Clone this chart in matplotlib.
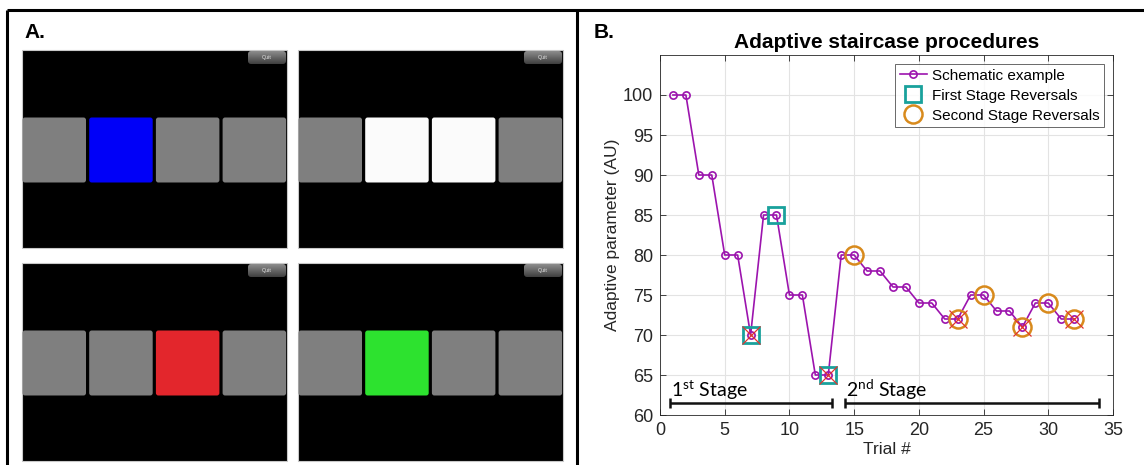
import matplotlib
matplotlib.use("Agg")
import matplotlib.pyplot as plt
from matplotlib.patches import FancyBboxPatch, Rectangle
import numpy as np

# ---- data -------------------------------------------------------------
trials = list(range(1, 33))
values = [100, 100, 90, 90, 80, 80, 70, 85, 85, 75, 75, 65, 65, 80, 80, 78,
          78, 76, 76, 74, 74, 72, 72, 75, 75, 73, 73, 71, 74, 74, 72, 72]
first_stage_reversals = [7, 9, 13]
second_stage_reversals = [15, 23, 25, 28, 30, 32]
valley_reversals = [7, 13, 23, 28, 32]
stage_spans = [(0.8, 13.3), (14.3, 33.9)]
stage_labels = ["1", "2"]
stage_suffix = ["st", "nd"]
x_ticks = [0, 5, 10, 15, 20, 25, 30, 35]
y_ticks = [60, 65, 70, 75, 80, 85, 90, 95, 100]

# stimulus screens: colour of each of the four tiles
screens = [
    ["#7f7f7f", "#0000f8", "#7f7f7f", "#7f7f7f"],
    ["#7f7f7f", "#fbfbfb", "#fbfbfb", "#7f7f7f"],
    ["#7f7f7f", "#7f7f7f", "#e3262c", "#7f7f7f"],
    ["#7f7f7f", "#2de22f", "#7f7f7f", "#7f7f7f"],
]

plt.rcParams["font.family"] = ["Liberation Sans", "DejaVu Sans"]
plt.rcParams["mathtext.fontset"] = "custom"
plt.rcParams["mathtext.rm"] = "Lato"

W, H = 1144, 465
fig = plt.figure(figsize=(W / 100, H / 100), dpi=100)

# ---- background layer in pixel coordinates ----------------------------
bg = fig.add_axes([0, 0, 1, 1])
bg.set_xlim(0, W)
bg.set_ylim(H, 0)
bg.axis("off")

# frame lines
bg.plot([7, W], [10, 10], color="black", lw=2.2, solid_capstyle="butt")
bg.plot([7, 7], [10, H], color="black", lw=2.2, solid_capstyle="butt")
bg.plot([577, 577], [10, H], color="black", lw=2.2, solid_capstyle="butt")

bg.text(24, 33, "A.", fontsize=15, fontweight="bold", ha="left", va="center")
bg.text(594, 33, "B.", fontsize=15, fontweight="bold", ha="left", va="center")

# screen geometry: (left, top) of each screen
screen_pos = [(22, 50), (298, 50), (22, 263), (298, 263)]
sw, sh = 265, 198
tile_w, tile_h, tile_gap = 63.5, 65, 3.2

for (sx, sy), colors in zip(screen_pos, screens):
    bg.add_patch(Rectangle((sx, sy), sw, sh, facecolor="black",
                           edgecolor="#c8c8c8", lw=0.8))
    ty = sy + sh / 2 - tile_h / 2 + 1
    for i, c in enumerate(colors):
        tx = sx + 0.5 + i * (tile_w + tile_gap)
        bg.add_patch(FancyBboxPatch((tx + 2.5, ty + 2.5), tile_w - 5, tile_h - 5,
                                    boxstyle="round,pad=2.5",
                                    facecolor=c, edgecolor="none"))
    # quit button
    bx, by, bw, bh = sx + sw - 39, sy + 1, 38, 13
    grad = np.linspace(0.55, 0.25, 20).reshape(-1, 1)
    bg.imshow(grad, cmap="gray", vmin=0, vmax=1, aspect="auto",
              extent=(bx, bx + bw, by + bh, by), zorder=3, interpolation="bilinear")
    clip = FancyBboxPatch((bx + 3, by + 3), bw - 6, bh - 6,
                          boxstyle="round,pad=3", facecolor="none",
                          edgecolor="none", transform=bg.transData)
    bg.add_patch(clip)
    bg.images[-1].set_clip_path(clip)
    bg.text(bx + bw / 2, by + bh / 2, "Quit", fontsize=3.8, color="#e6e6e6",
            ha="center", va="center", zorder=4)

# ---- staircase chart --------------------------------------------------
ax_l, ax_r, ax_t, ax_b = 660, 1113, 55, 415
ax = fig.add_axes([ax_l / W, 1 - ax_b / H, (ax_r - ax_l) / W, (ax_b - ax_t) / H])

line_col = "#9c14ae"
sq_col = "#19a19c"
circ_col = "#d88a1c"
x_col = "#e0342e"

vals = dict(zip(trials, values))
ax.plot(trials, values, "-o", color=line_col, lw=1.2, ms=5.2, mfc="none",
        mew=1.2, label="Schematic example", zorder=3)
ax.plot(first_stage_reversals, [vals[t] for t in first_stage_reversals], "s",
        color=sq_col, ms=11, mfc="none", mew=2.0, ls="none",
        label="First Stage Reversals", zorder=4)
ax.plot(second_stage_reversals, [vals[t] for t in second_stage_reversals], "o",
        color=circ_col, ms=13, mfc="none", mew=1.8, ls="none",
        label="Second Stage Reversals", zorder=4)
ax.plot(valley_reversals, [vals[t] for t in valley_reversals], "x",
        color=x_col, ms=13, mew=0.9, ls="none", zorder=5)

ax.set_xlim(0, 35)
ax.set_ylim(60, 105)
ax.set_xticks(x_ticks)
ax.set_yticks(y_ticks)
ax.tick_params(direction="in", top=True, right=True, length=4, width=0.6,
               labelsize=13, colors="#262626", pad=5)
ax.grid(True, color="#e3e3e3", lw=0.8)
ax.set_axisbelow(True)
for s in ax.spines.values():
    s.set_color("#262626")
    s.set_linewidth(0.6)

ax.set_title("Adaptive staircase procedures", fontsize=15, fontweight="bold",
             pad=5)
ax.set_xlabel("Trial #", fontsize=12.5, color="#262626", labelpad=2)
ax.set_ylabel("Adaptive parameter (AU)", fontsize=12.5, color="#262626",
              labelpad=2)

leg = ax.legend(loc="upper right", fontsize=11, frameon=True, fancybox=False,
                edgecolor="#262626", borderpad=0.3, handlelength=1.8,
                handletextpad=0.3, labelspacing=0.4, borderaxespad=0,
                bbox_to_anchor=(0.98, 0.975))
leg.get_frame().set_linewidth(0.6)

# stage brackets
for (x0, x1), num, suf in zip(stage_spans, stage_labels, stage_suffix):
    ax.plot([x0, x1], [61.5, 61.5], color="#111111", lw=1.8,
            solid_capstyle="butt", zorder=6)
    for xe in (x0, x1):
        ax.plot([xe, xe], [60.9, 62.1], color="#111111", lw=1.8,
                solid_capstyle="butt", zorder=6)
    ax.text(x0 + 0.05, 61.65, num + r"$^{\mathrm{" + suf + r"}}$ Stage",
            fontsize=14, family="Lato", ha="left", va="bottom", zorder=6)

fig.savefig("out.png", dpi=100)
